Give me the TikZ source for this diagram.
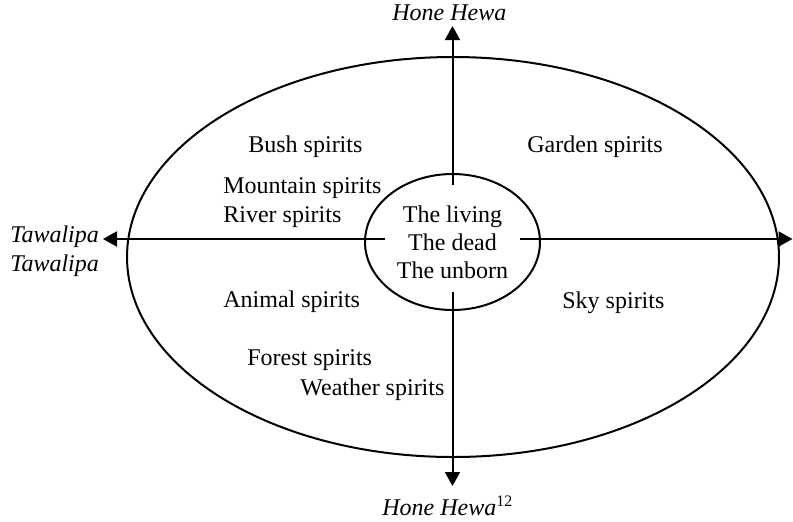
\documentclass[tikz,border=0pt]{standalone}
\usepackage{fontspec}
\setmainfont{Liberation Serif}
\usetikzlibrary{arrows.meta}
\begin{document}
\begin{tikzpicture}[x=0.5pt,y=-0.5pt,
  lbl/.style={anchor=base west, inner sep=0pt, font=\fontsize{12}{14}\selectfont},
  mid/.style={anchor=base, inner sep=0pt, font=\fontsize{12}{14}\selectfont},
  axis/.style={line width=1pt, -{Triangle[length=7pt,width=7.5pt]}},
  ring/.style={line width=1pt}]
\useasboundingbox (0,0) rectangle (793,521);
% ellipses
\draw[ring] (453,257) ellipse [x radius=163pt, y radius=100pt];
\draw[ring] (452.5,242) ellipse [x radius=43.75pt, y radius=34pt];
% axis end points
\coordinate (Nin) at (452.5,185);
\coordinate (N) at (452.5,26);
\coordinate (Sin) at (452.5,292);
\coordinate (S) at (452.5,486);
\coordinate (Win) at (385,239);
\coordinate (W) at (103,239);
\coordinate (Ein) at (520,239);
\coordinate (E) at (792.5,239);
\draw[axis] (Nin) -- (N);
\draw[axis] (Sin) -- (S);
\draw[axis] (Win) -- (W);
\draw[axis] (Ein) -- (E);
% centre texts
\node[mid] (living) at (452.5,222) {The living};
\node[mid] (dead) at (452.5,250) {The dead};
\node[mid] (unborn) at (452.5,278) {The unborn};
% spirits
\node[lbl] (bush) at (248,152) {Bush spirits};
\node[lbl] (garden) at (527,152) {Garden spirits};
\node[lbl] (mountain) at (223,193) {Mountain spirits};
\node[lbl] (river) at (223,222) {River spirits};
\node[lbl] (animal) at (223,307) {Animal spirits};
\node[lbl] (sky) at (562,308) {Sky spirits};
\node[lbl] (forest) at (247,365) {Forest spirits};
\node[lbl] (weather) at (300,395) {Weather spirits};
% direction labels
\node[lbl] (top) at (392,20) {\itshape Hone Hewa};
\node[lbl] (bottom) at (382,515) {{\itshape Hone Hewa}\textsuperscript{12}};
\node[lbl] (taw1) at (10,242) {\itshape Tawalipa};
\node[lbl] (taw2) at (10,271) {\itshape Tawalipa};
\end{tikzpicture}
\end{document}
